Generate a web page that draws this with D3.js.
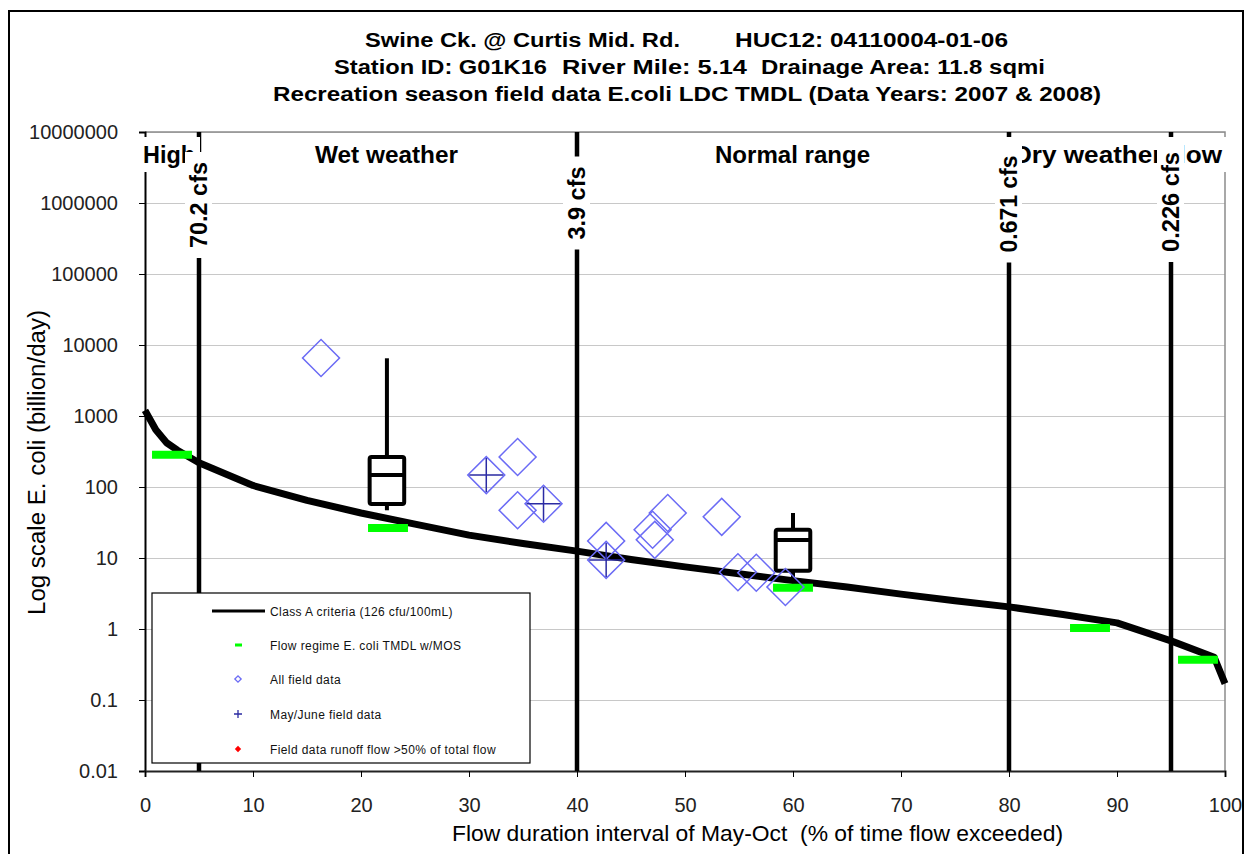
<!DOCTYPE html>
<html>
<head>
<meta charset="utf-8">
<script src="https://cdn.jsdelivr.net/npm/d3@7"></script>
<style>
  body { margin: 0; background: #fff; }
  svg text { font-family: "Liberation Sans", Arial, sans-serif; }
</style>
</head>
<body>
<div id="chart"></div>
<script>
// Class A criteria curve (load at 126 cfu/100mL along the flow duration)
var flowPct = [0, 1, 2, 3, 5, 10, 15, 20, 25, 30, 35, 40, 45, 50, 55, 60, 65, 70, 75, 80, 85, 90, 95, 99, 100];
var criteriaLoad = [1200, 640, 420, 330, 220, 105, 65, 43, 30, 21, 16, 12.5, 9.5, 7.5, 6.0, 4.8, 3.9, 3.1, 2.5, 2.05, 1.6, 1.22, 0.68, 0.40, 0.17];

// flow regime TMDL w/MOS (one bar per regime)
var tmdlFlow = [2.5, 22.5, 60, 87.5, 97.5];
var tmdlLoad = [285, 26.5, 3.8, 1.03, 0.37];

// field samples
var fieldFlow = [16.3, 31.6, 34.5, 34.5, 36.9, 42.7, 42.7, 47.0, 47.2, 48.4, 53.4, 54.9, 56.6, 59.3];
var fieldLoad = [6560, 147, 265, 47, 58, 17.4, 9.4, 25, 18, 43, 38, 6.3, 6.2, 3.9];
var fieldMayJune = [false, true, false, false, true, false, true, false, false, false, false, false, false, false];

// box plots of the field data per regime
var boxFlow = [22.4, 60];
var boxMin = [47, 4.6];
var boxQ1 = [57.6, 6.6];
var boxMed = [147, 18];
var boxQ3 = [265, 25];
var boxMax = [6500, 43];

// flow regime boundaries
var regimeX = [5, 40, 80, 95];
var regimeCfs = ["70.2 cfs", "3.9 cfs", "0.671 cfs", "0.226 cfs"];
var regimeNames = ["High", "Wet weather", "Normal range", "Dry weather flow"];

// axes
var yTicks = [0.01, 0.1, 1, 10, 100, 1000, 10000, 100000, 1000000, 10000000];
var yTickLabels = ["0.01", "0.1", "1", "10", "100", "1000", "10000", "100000", "1000000", "10000000"];
var xTicks = [0, 10, 20, 30, 40, 50, 60, 70, 80, 90, 100];

// title pieces, laid out on three lines
var titlePieces = [
  "Swine Ck. @ Curtis Mid. Rd.", "HUC12: 04110004-01-06",
  "Station ID: G01K16", "River Mile: 5.14", "Drainage Area: 11.8 sqmi",
  "Recreation season field data E.coli LDC TMDL (Data Years: 2007 & 2008)"
];
var legendLabels = [
  "Class A criteria (126 cfu/100mL)",
  "Flow regime E. coli TMDL w/MOS",
  "All field data",
  "May/June field data",
  "Field data runoff flow >50% of total flow"
];

var svgWidth = 1250, svgHeight = 854;
var svg = d3.select("#chart").append("svg")
  .attr("width", svgWidth)
  .attr("height", svgHeight);

// outer frame
svg.append("rect")
  .attr("x", 9).attr("y", 11)
  .attr("width", 1234).attr("height", 870)
  .attr("fill", "none").attr("stroke", "#000").attr("stroke-width", 2);

var x = d3.scaleLinear().domain([0, 100]).range([145, 1225]);
var y = d3.scaleLog().domain([0.01, 1e7]).range([771, 132]);

function stretchText(sel, len) {
  return sel.attr("textLength", len).attr("lengthAdjust", "spacingAndGlyphs");
}

// title
var titlePos = [
  {x: 365, y: 47, len: 315}, {x: 735, y: 47, len: 273},
  {x: 334, y: 74, len: 213}, {x: 562, y: 74, len: 185}, {x: 761, y: 74, len: 284},
  {x: 273, y: 101, len: 828}
];
var titleG = svg.append("g").attr("font-weight", "bold").attr("font-size", 20).attr("fill", "#000");
titlePieces.forEach(function(t, i) {
  stretchText(titleG.append("text").attr("x", titlePos[i].x).attr("y", titlePos[i].y).text(t), titlePos[i].len);
});

// gridlines
svg.append("g")
  .attr("transform", "translate(145,0)")
  .call(d3.axisLeft(y).tickValues(yTicks).tickSize(-1080).tickFormat(""))
  .call(g => g.select(".domain").remove())
  .call(g => g.selectAll(".tick line").attr("stroke", "#c8c8c8").attr("stroke-width", 1));

// plot frame top and right
svg.append("path")
  .attr("d", "M145,132H1225V771")
  .attr("fill", "none").attr("stroke", "#8c8c8c").attr("stroke-width", 1.5);

// y axis
var yAxis = svg.append("g")
  .attr("transform", "translate(145,0)")
  .call(d3.axisLeft(y).tickValues(yTicks).tickFormat((d, i) => yTickLabels[i]).tickSize(6).tickPadding(21));
yAxis.select(".domain").attr("stroke", "#000").attr("stroke-width", 2);
yAxis.selectAll(".tick line").attr("stroke", "#000");
yAxis.selectAll(".tick text").attr("font-size", 20).attr("fill", "#222")
  .attr("font-family", "'Liberation Sans', Arial, sans-serif");

// x axis
var xAxis = svg.append("g")
  .attr("transform", "translate(0,771)")
  .call(d3.axisBottom(x).tickValues(xTicks).tickSize(6).tickPadding(21));
xAxis.select(".domain").attr("stroke", "#222").attr("stroke-width", 2);
xAxis.selectAll(".tick line").attr("stroke", "#000");
xAxis.selectAll(".tick text").attr("font-size", 20).attr("fill", "#222")
  .attr("font-family", "'Liberation Sans', Arial, sans-serif");

// axis titles
stretchText(svg.append("text")
  .attr("transform", "translate(45,615) rotate(-90)")
  .attr("font-size", 23)
  .text("Log scale E. coli (billion/day)"), 305);

stretchText(svg.append("text")
  .attr("x", 452).attr("y", 841)
  .attr("font-size", 22)
  .attr("xml:space", "preserve")
  .text("Flow duration interval of May-Oct  (% of time flow exceeded)"), 611);

// regime boundary lines
svg.append("g").selectAll("line")
  .data(regimeX)
  .enter()
  .append("line")
  .attr("x1", d => x(d)).attr("x2", d => x(d))
  .attr("y1", 132).attr("y2", 771)
  .attr("stroke", "#000").attr("stroke-width", 4.5);

// regime names (white text boxes)
var nameBoxes = [
  {x0: 139, x1: 200, tx: 143, len: 52},
  {x0: 300, x1: 475, tx: 315, len: 143},
  {x0: 700, x1: 885, tx: 715, len: 155},
  {x0: 1000, x1: 1229, tx: 1013, len: 209}
];
var nameG = svg.append("g");
nameBoxes.forEach(function(b, i) {
  nameG.append("rect")
    .attr("x", b.x0).attr("y", 137)
    .attr("width", b.x1 - b.x0).attr("height", 35)
    .attr("fill", "#fff");
  stretchText(nameG.append("text")
    .attr("x", b.tx).attr("y", 163)
    .attr("font-size", 23).attr("font-weight", "bold")
    .text(regimeNames[i]), b.len);
});

// cfs labels on the boundary lines
var cfsLen = [86, 73, 97, 100];
var cfsMid = [205, 203, 204, 202];
var cfsG = svg.append("g");
regimeX.forEach(function(v, i) {
  cfsG.append("rect")
    .attr("x", x(v) - 14).attr("y", cfsMid[i] - cfsLen[i] / 2 - 10)
    .attr("width", 27).attr("height", cfsLen[i] + 20)
    .attr("fill", "#fff");
  stretchText(cfsG.append("text")
    .attr("transform", `translate(${x(v) + 8},${cfsMid[i]}) rotate(-90)`)
    .attr("text-anchor", "middle")
    .attr("font-size", 23).attr("font-weight", "bold")
    .text(regimeCfs[i]), cfsLen[i]);
});

// criteria curve
var line = d3.line()
  .x((d, i) => x(flowPct[i]))
  .y((d, i) => y(criteriaLoad[i]));
svg.append("path")
  .attr("d", line(flowPct))
  .attr("fill", "none")
  .attr("stroke", "#000")
  .attr("stroke-width", 7)
  .attr("stroke-linejoin", "round");

// TMDL bars
svg.append("g").selectAll("line")
  .data(tmdlFlow)
  .enter()
  .append("line")
  .attr("x1", d => x(d - 1.85)).attr("x2", d => x(d + 1.85))
  .attr("y1", (d, i) => y(tmdlLoad[i])).attr("y2", (d, i) => y(tmdlLoad[i]))
  .attr("stroke", "#00ff00").attr("stroke-width", 8);

// box plots
var boxG = svg.append("g")
  .attr("stroke", "#000").attr("stroke-width", 4).attr("fill", "none")
  .attr("stroke-linejoin", "round");
boxFlow.forEach(function(f, i) {
  var cx = x(f), hw = x(f + 1.6) - x(f);
  boxG.append("line").attr("x1", cx).attr("x2", cx).attr("y1", y(boxQ3[i])).attr("y2", y(boxMax[i]));
  boxG.append("line").attr("x1", cx).attr("x2", cx).attr("y1", y(boxQ1[i])).attr("y2", y(boxMin[i]));
  boxG.append("rect")
    .attr("x", cx - hw).attr("y", y(boxQ3[i]))
    .attr("width", 2 * hw).attr("height", y(boxQ1[i]) - y(boxQ3[i]))
    .attr("rx", 2).attr("fill", "#fff");
  boxG.append("line").attr("x1", cx - hw).attr("x2", cx + hw).attr("y1", y(boxMed[i])).attr("y2", y(boxMed[i]));
});

// field data diamonds
var diamond = d3.symbol().type(d3.symbolSquare).size(684);
var ptG = svg.append("g");
ptG.selectAll("path")
  .data(fieldFlow)
  .enter()
  .append("path")
  .attr("d", diamond)
  .attr("transform", (d, i) => `translate(${x(d)},${y(fieldLoad[i])}) rotate(45)`)
  .attr("fill", "none")
  .attr("stroke", "#6b6bf5")
  .attr("stroke-width", 1.5);

// May/June crosses
var mj = fieldFlow.map((d, i) => i).filter(i => fieldMayJune[i]);
ptG.selectAll("path.plus")
  .data(mj)
  .enter()
  .append("path")
  .attr("class", "plus")
  .attr("d", i => {
    var px = x(fieldFlow[i]), py = y(fieldLoad[i]);
    return `M${px - 17},${py}H${px + 17}M${px},${py - 17}V${py + 17}`;
  })
  .attr("stroke", "#2b2ba3")
  .attr("stroke-width", 1.5);

// legend
var legend = svg.append("g");
legend.append("rect")
  .attr("x", 152).attr("y", 593)
  .attr("width", 378).attr("height", 170)
  .attr("fill", "#fff").attr("stroke", "#000").attr("stroke-width", 1.2);
var rowY = [611, 645, 679, 714, 749];
legend.append("line")
  .attr("x1", 212).attr("x2", 265).attr("y1", rowY[0]).attr("y2", rowY[0])
  .attr("stroke", "#000").attr("stroke-width", 3);
legend.append("rect")
  .attr("x", 235).attr("y", rowY[1] - 1.5).attr("width", 7).attr("height", 3)
  .attr("fill", "#00ff00");
legend.append("path")
  .attr("d", d3.symbol().type(d3.symbolSquare).size(20))
  .attr("transform", `translate(238,${rowY[2]}) rotate(45)`)
  .attr("fill", "none").attr("stroke", "#6b6bf5").attr("stroke-width", 1.3);
legend.append("path")
  .attr("d", `M234,${rowY[3]}H242M238,${rowY[3] - 4}V${rowY[3] + 4}`)
  .attr("stroke", "#2b2ba3").attr("stroke-width", 1.3);
legend.append("path")
  .attr("d", d3.symbol().type(d3.symbolSquare).size(20))
  .attr("transform", `translate(238,${rowY[4]}) rotate(45)`)
  .attr("fill", "#ff0000");
legend.selectAll("text")
  .data(legendLabels)
  .enter()
  .append("text")
  .attr("x", 270)
  .attr("y", (d, i) => rowY[i] + 4.5)
  .attr("font-size", 12)
  .attr("letter-spacing", 0.4)
  .attr("fill", "#111")
  .text(d => d);
</script>
</body>
</html>
